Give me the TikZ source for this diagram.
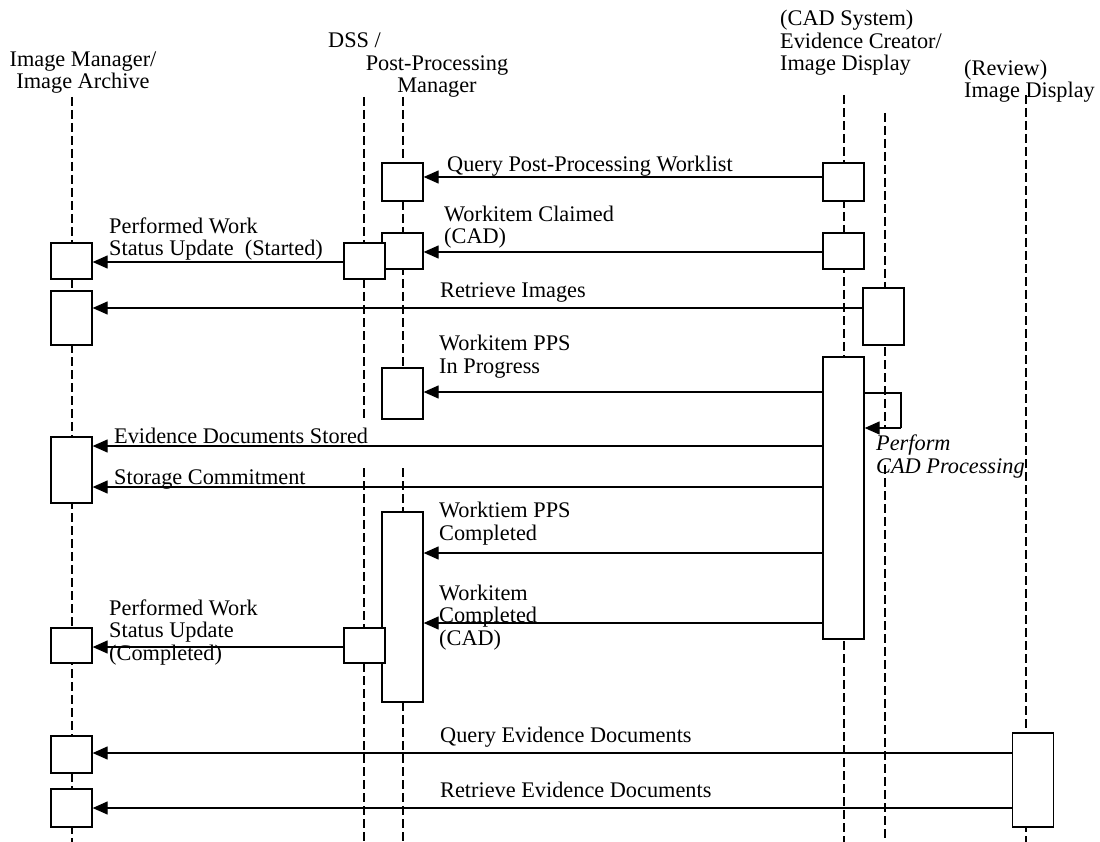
\documentclass[tikz,border=0pt]{standalone}
\usepackage{fontspec}
\setmainfont{Liberation Serif}
\usetikzlibrary{arrows.meta}

\tikzset{
  life/.style={dash pattern=on 9pt off 4pt, line width=1.4pt},
  act/.style={draw, fill=white, line width=1.3pt, minimum width=41pt, inner sep=0pt},
  msg/.style={-{Triangle[length=15pt,width=13pt]}, line width=1.2pt},
  lbl/.style={font=\fontsize{22.3}{22.5}\selectfont, align=left, inner sep=0pt, anchor=base west},
  head/.style={font=\fontsize{22.3}{22.5}\selectfont, inner sep=0pt, anchor=base}
}

\begin{document}
\begin{tikzpicture}[x=1pt,y=-1pt]
        \useasboundingbox (0,0) rectangle (1100,842);

        % Actors (multi-line texts sit on their last baseline)
        \node[head, align=center] (imhead) at (83,89) {Image Manager/\\Image Archive};
        \node[head, anchor=base west] (dsshead) at (328,48) {DSS /};
        \node[head, align=center] (ppmhead) at (437,93) {Post-Processing\\Manager};
        \node[head, anchor=base west, align=left] (cadhead) at (780,71) {(CAD System)\\Evidence Creator/\\Image Display};
        \node[head, anchor=base west, align=left] (revhead) at (964,98) {(Review)\\Image Display};

        % Lifelines
        \draw[life] (72,97) -- (72,842);
        \draw[life] (364,97) -- (364,418);
        \draw[life] (364,468) -- (364,842);
        \draw[life] (403,97) -- (403,368);
        \draw[life] (403,468) -- (403,842);
        \draw[life] (844,95) -- (844,842);
        \draw[life] (885,113) -- (885,428);
        \draw[life] (885,465) -- (885,842);
        \draw[life] (1026,95) -- (1026,842);

        % Activations
        \node[act, minimum height=36pt] (imA) at (71.5,261) {};
        \node[act, minimum height=54pt] (imB) at (71.5,318) {};
        \node[act, minimum height=66pt] (imC) at (71.5,470) {};
        \node[act, minimum height=35pt] (imD) at (71.5,645.5) {};
        \node[act, minimum height=37pt] (imE) at (71.5,754.5) {};
        \node[act, minimum height=38pt] (imF) at (71.5,808) {};
        \node[act, minimum height=38pt] (ppmA) at (402.5,182) {};
        \node[act, minimum height=36pt] (ppmB) at (402.5,251) {};
        \node[act, minimum height=51pt] (ppmC) at (402.5,393.5) {};
        \node[act, minimum height=190pt] (ppmD) at (402.5,607) {};
        \node[act, minimum height=36pt] (dssA) at (364.5,261) {};
        \node[act, minimum height=35pt] (dssB) at (364.5,645.5) {};
        \node[act, minimum height=38pt] (cadA) at (843.5,182) {};
        \node[act, minimum height=36pt] (cadB) at (843.5,251) {};
        \node[act, minimum height=282pt] (cadC) at (843.5,498) {};
        \node[act, minimum height=57pt] (cadD) at (883.5,316.5) {};
        \node[act, minimum height=94pt] (revA) at (1033,780) {};

        % Messages
        \draw[msg] (cadA.west |- 0,177) -- (ppmA.east |- 0,177);
        \node[lbl] (qwl) at (447,172) {Query Post-Processing Worklist};

        \draw[msg] (cadB.west |- 0,252) -- (ppmB.east |- 0,252);
        \node[lbl] (claim) at (444,244) {Workitem Claimed\\(CAD)};

        \draw[msg] (dssA.west |- 0,262) -- (imA.east |- 0,262);
        \node[lbl] (pwsA) at (109,256) {Performed Work\\Status Update~~(Started)};

        \draw[msg] (cadD.west |- 0,308) -- (imB.east |- 0,308);
        \node[lbl] (rimg) at (440,298) {Retrieve Images};

        \draw[msg] (cadC.west |- 0,392) -- (ppmC.east |- 0,392);
        \node[lbl] (inprog) at (439,373) {Workitem PPS\\In Progress};

        % CAD processing loop
        \draw[line width=1.2pt] (cadC.east |- 0,393) -- (901,393) -- (901,428);
        \draw[msg] (901,428) -- (cadC.east |- 0,428);
        \node[lbl, font=\fontsize{22.3}{22.5}\selectfont\itshape] (cadproc) at (876,473) {Perform\\CAD Processing};

        \draw[msg] (cadC.west |- 0,446) -- (imC.east |- 0,446);
        \node[lbl] (evst) at (114,443) {Evidence Documents Stored};

        \draw[msg] (cadC.west |- 0,487) -- (imC.east |- 0,487);
        \node[lbl] (stcm) at (114,484) {Storage Commitment};

        \draw[msg] (cadC.west |- 0,553) -- (ppmD.east |- 0,553);
        \node[lbl] (ppsdone) at (439,540) {Worktiem PPS\\Completed};

        \draw[msg] (cadC.west |- 0,623) -- (ppmD.east |- 0,623);
        \node[lbl] (wdone) at (439,645) {Workitem\\Completed\\(CAD)};

        \draw[msg] (dssB.west |- 0,647) -- (imD.east |- 0,647);
        \node[lbl] (pwsB) at (109,660) {Performed Work\\Status Update\\(Completed)};

        \draw[msg] (revA.west |- 0,753) -- (imE.east |- 0,753);
        \node[lbl] (qevd) at (440,742) {Query Evidence Documents};

        \draw[msg] (revA.west |- 0,808) -- (imF.east |- 0,808);
        \node[lbl] (revd) at (440,797) {Retrieve Evidence Documents};
    \end{tikzpicture}
\end{document}
